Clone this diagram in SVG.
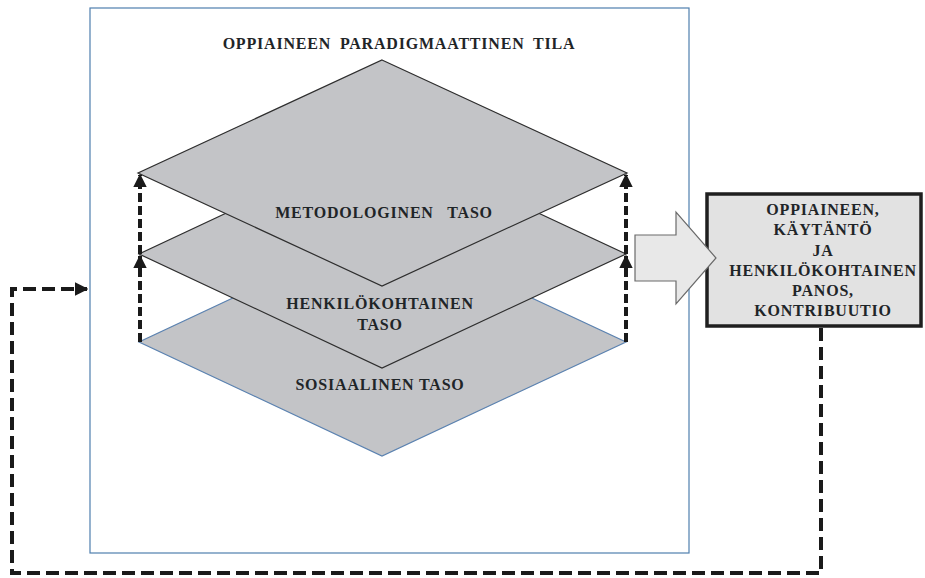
<svg xmlns="http://www.w3.org/2000/svg" width="925" height="578" viewBox="0 0 925 578">
  <defs>
    <marker id="head" viewBox="0 0 10 10" refX="9" refY="5" markerWidth="3.4" markerHeight="3.4" orient="auto" markerUnits="strokeWidth">
      <path d="M0,0 L10,5 L0,10 Z" fill="#1a1a1a"/>
    </marker>
    <style>
      .lbl { font-family: "Liberation Serif", "Times New Roman", serif; font-weight: bold; font-size: 16px; letter-spacing: 0.8px; fill: #1f2528; text-anchor: middle; }
      .plane { fill: #c3c4c7; stroke: #2e2e2e; stroke-width: 1.2; }
      .plane-base { fill: #c3c4c7; stroke: #5b82b0; stroke-width: 1.2; }
      .riser { fill: none; stroke: #1a1a1a; stroke-width: 4; stroke-dasharray: 9 4; marker-end: url(#head); }
      .loop { fill: none; stroke: #1a1a1a; stroke-width: 4; stroke-dasharray: 13 6; }
    </style>
  </defs>
  <rect width="925" height="578" fill="#ffffff"/>

  <!-- paradigm space frame -->
  <g id="paradigm-space">
    <rect x="90" y="8" width="599" height="545" fill="#ffffff" stroke="#4f7fae" stroke-width="1.2"/>
    <text class="lbl" x="399" y="49" word-spacing="4">OPPIAINEEN PARADIGMAATTINEN TILA</text>
  </g>

  <!-- stacked planes, drawn back to front -->
  <g id="social-level">
    <polygon class="plane-base" points="382,228 626,342 382,456 139,342"/>
    <text class="lbl" x="380" y="390">SOSIAALINEN TASO</text>
  </g>
  <g id="personal-level">
    <polygon class="plane" points="382,140 626,254 382,368 139,254"/>
    <text class="lbl" x="380" y="309">HENKILÖKOHTAINEN</text>
    <text class="lbl" x="380" y="330">TASO</text>
  </g>
  <g id="methodological-level">
    <polygon class="plane" points="382,60 627,173 382,286 138,173"/>
    <text class="lbl" x="384" y="218" word-spacing="9">METODOLOGINEN TASO</text>
  </g>

  <!-- contribution box and transfer arrow -->
  <g id="contribution">
    <rect x="707" y="194" width="214" height="132" fill="#e2e2e2" stroke="#1f1f1f" stroke-width="3.5"/>
    <text class="lbl" x="823" y="215">OPPIAINEEN,</text>
    <text class="lbl" x="823" y="235">KÄYTÄNTÖ</text>
    <text class="lbl" x="823" y="256">JA</text>
    <text class="lbl" x="823" y="276">HENKILÖKOHTAINEN</text>
    <text class="lbl" x="823" y="296">PANOS,</text>
    <text class="lbl" x="823" y="316">KONTRIBUUTIO</text>
  </g>
  <g id="transfer-arrow">
    <polygon points="635,235 676,235 676,212 716,258 676,304 676,281 635,281" fill="#e8e8e8" stroke="#6a6a6a" stroke-width="1.2"/>
  </g>

  <!-- connectors -->
  <g id="connectors">
    <line class="riser" x1="140" y1="342" x2="140" y2="256"/>
    <line class="riser" x1="140" y1="254" x2="140" y2="175"/>
    <line class="riser" x1="626" y1="342" x2="626" y2="256"/>
    <line class="riser" x1="626" y1="254" x2="626" y2="175"/>
    <polyline class="loop" points="821,328 821,573 12,573 12,289 87,289" marker-end="url(#head)"/>
  </g>
</svg>
